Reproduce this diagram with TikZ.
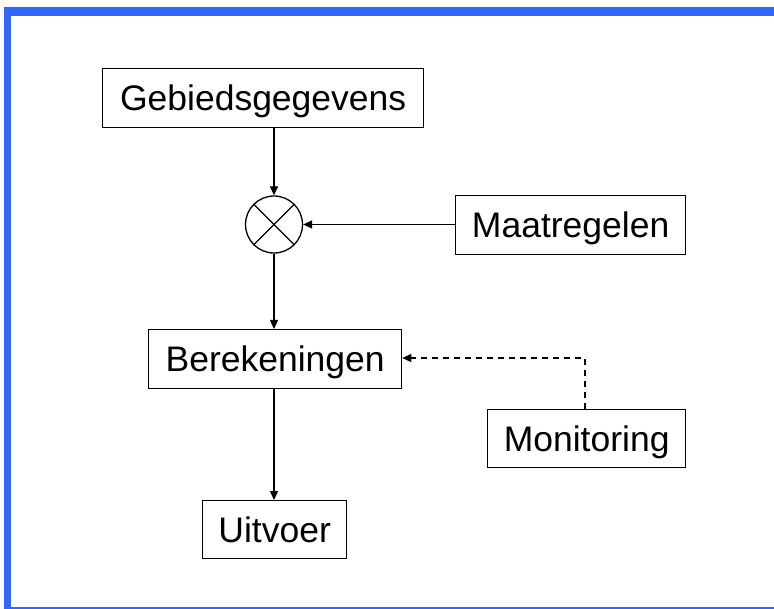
\documentclass[tikz,border=0pt]{standalone}
\usepackage{fontspec}
\setmainfont{Liberation Sans}
\usetikzlibrary{arrows.meta}
\definecolor{frameblue}{HTML}{3366FF}
\begin{document}
\begin{tikzpicture}[x=1pt,y=-1pt,
  box/.style={draw,line width=1.3pt,minimum height=59pt,inner sep=0pt,font=\fontsize{35.5}{42}\selectfont,
    text height=25.4pt,text depth=0pt,anchor=north west},
  conn/.style={line width=1.3pt,-{Triangle[length=9pt,width=8pt]}},
  dconn/.style={conn,dash pattern=on 6pt off 5pt}]
\useasboundingbox (0,0) rectangle (774,609);
\fill[white] (0,0) rectangle (774,609);
% frame
\fill[frameblue] (4,7) rectangle (774,16);
\fill[frameblue] (4,7) rectangle (11,609);
\fill[frameblue] (4,607) rectangle (774,609);
% nodes
\node[box,minimum width=321pt] (geb) at (102,68) {Gebiedsgegevens};
\node[draw,circle,line width=1.3pt,minimum size=57pt,inner sep=0pt] (mix) at (274,224.5) {};
\draw[line width=1.3pt] (mix.north east) -- (mix.south west) (mix.north west) -- (mix.south east);
\node[box,minimum width=230pt] (maat) at (455,195) {Maatregelen};
\node[box,minimum width=253pt] (ber) at (148,329) {Berekeningen};
\node[box,minimum width=198pt,minimum height=58pt] (mon) at (487,409) {Monitoring};
\node[box,minimum width=144pt,minimum height=58pt] (uit) at (202,500) {Uitvoer};
\coordinate (bend) at (585,358);
% connectors
\draw[conn] (geb.south -| mix.north) -- (mix.north);
\draw[conn] (maat.west |- mix.east) -- (mix.east);
\draw[conn] (mix.south) -- (ber.north -| mix.south);
\draw[conn] (ber.south -| mix.south) -- (uit.north -| mix.south);
\draw[dconn] (mon.north -| bend) -- (bend) -- (ber.east |- bend);
\end{tikzpicture}
\end{document}
